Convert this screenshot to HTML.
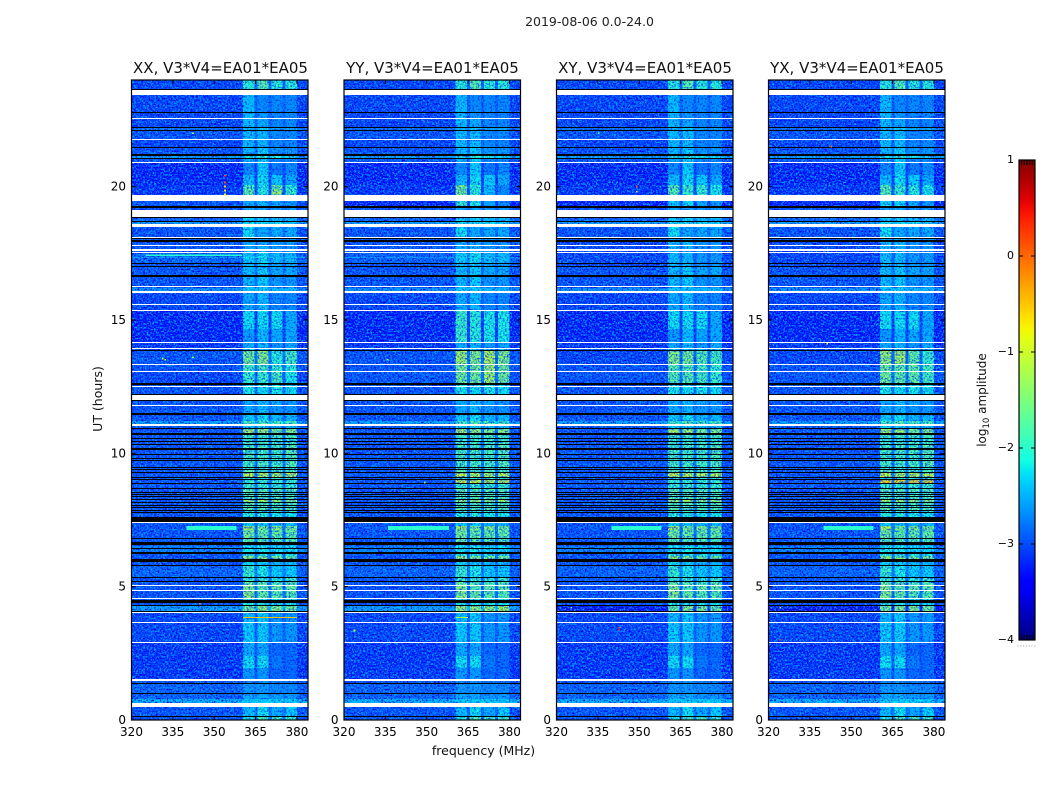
<!DOCTYPE html>
<html lang="en">
<head>
<meta charset="utf-8">
<title>2019-08-06 0.0-24.0</title>
<style>
html,body{margin:0;padding:0;background:#fff;}
svg{display:block;font-family:"DejaVu Sans","Liberation Sans",sans-serif;fill:#000;}
</style>
</head>
<body>
<svg id="figure" xmlns="http://www.w3.org/2000/svg" width="1050" height="800" viewBox="0 0 1050 800">
  <defs>
    <filter id="speckle-light" x="0" y="0" width="100%" height="100%" color-interpolation-filters="sRGB">
      <feTurbulence type="fractalNoise" baseFrequency="0.55" numOctaves="2" seed="7"/>
      <feColorMatrix type="matrix" values="0 0 0 0 0  0 0 0 0 0.62  0 0 0 0 1  5 0 0 0 -2.25"/>
    </filter>
    <filter id="speckle-dark" x="0" y="0" width="100%" height="100%" color-interpolation-filters="sRGB">
      <feTurbulence type="fractalNoise" baseFrequency="0.55" numOctaves="2" seed="23"/>
      <feColorMatrix type="matrix" values="0 0 0 0 0  0 0 0 0 0  0 0 0 0 0.9  0 4 0 0 -2.0"/>
    </filter>
    <linearGradient id="jet-gradient" x1="0" y1="1" x2="0" y2="0"></linearGradient>
  </defs>
  <rect x="0" y="0" width="1050" height="800" style="fill:#fff"/>
  <text x="589.5" y="26" font-size="12.5" text-anchor="middle" style="fill:#222">2019-08-06 0.0-24.0</text>
  <g id="panels"></g>
  <text x="220.5" y="73" font-size="15" text-anchor="middle" style="fill:#111">XX, V3*V4=EA01*EA05</text>
  <text x="432.5" y="73" font-size="15" text-anchor="middle" style="fill:#111">YY, V3*V4=EA01*EA05</text>
  <text x="645" y="73" font-size="15" text-anchor="middle" style="fill:#111">XY, V3*V4=EA01*EA05</text>
  <text x="857" y="73" font-size="15" text-anchor="middle" style="fill:#111">YX, V3*V4=EA01*EA05</text>
  <text x="102" y="399" font-size="12.5" text-anchor="middle" transform="rotate(-90 102 399)" style="fill:#111">UT (hours)</text>
  <text x="483.5" y="755" font-size="12.5" text-anchor="middle" style="fill:#111">frequency (MHz)</text>
  <g id="colorbar"></g>
  <text x="986" y="400" font-size="12" text-anchor="middle" transform="rotate(-90 986 400)" style="fill:#111">log<tspan font-size="8.5" dy="3">10</tspan><tspan dy="-3"> amplitude</tspan></text>
</svg>
<script>
// ---- chart data ----
const xTickLabels = [320, 335, 350, 365, 380];
const yTickLabels = [0, 5, 10, 15, 20];
const colorbarTickLabels = [1, 0, -1, -2, -3, -4];
const panelNames = ['xx', 'yy', 'xy', 'yx'];

// Frequency channel groups (MHz) and what each holds.
const freqEdges = [320, 360.5, 364.6, 365.7, 369.7, 370.8, 374.8, 375.9, 380, 384];
const freqRoles = [0, 1, -1, 2, -1, 3, -1, 4, 0];
const gapLift = 0.2;
const bandBoost = 0.12;

// Scans, top to bottom: [start integration, background, band1, band2, band3, band4].
// A lone null is flagged (white); a lone -9 is under-range (black).
const integrationHours = 0.0375;
const scans = [
[0,-3.1,-2.1,-1.8,-2.1,-2.1],[9,-9],[10,null],[15,-3.1,-2.5,-2.8,-2.8,-2.8],[32,-9],[33,-3.1,-2.5,-2.7,-2.8,-2.8],[38,null],
[39,-3.1,-2.5,-2.6,-2.8,-2.8],[47,-9],[48,-2.8,-2.5,-2.4,-2.6,-2.6],[50,-9],[51,-3.0,-2.5,-2.5,-2.8,-2.8],[59,null],
[60,-3.1,-2.5,-2.5,-2.8,-2.8],[67,-9],[68,-3.0,-2.5,-2.4,-2.7,-2.7],[74,-9],[76,-2.5,-2.2,-2.1,-2.2,-2.3],[78,-9],
[79,-3.0,-2.6,-2.4,-2.8,-2.8],[82,null],[83,-3.3,-2.8,-2.4,-2.9,-2.8],[95,-3.3,-2.5,-2.3,-2.4,-2.6],[105,-3.2,-1.9,-2.2,-1.7,-2.1],
[110,-3.2,-1.7,-2.1,-1.4,-2.0],[115,null],[121,-3.0,-2.6,-2.5,-2.6,-2.7],[126,-9],[128,-3.0,-2.6,-2.6,-2.7,-2.7],[130,null],
[137,-9],[138,-2.9,-2.4,-2.4,-2.5,-2.5],[141,-9],[142,-2.5,-2.3,-2.3,-2.3,-2.4],[144,null],[147,-3.0,-2.3,-2.6,-2.6,-2.6],
[157,null],[158,-9],[159,-3.0,-2.6,-2.6,-2.7,-2.7],[160,-9],[162,-3.0,-2.6,-2.6,-2.7,-2.7],[165,null],[166,-3.0,-2.6,-2.5,-2.7,-2.7],
[169,null],[171,-3.0,-2.6,-2.5,-2.7,-2.7],[172,null],[173,-2.9,-2.4,-2.3,-2.5,-2.5],[177,-2.5,-2.3,-2.3,-2.4,-2.4],
[178,-2.9,-2.4,-2.3,-2.5,-2.5],[183,-9],[184,-3.0,-2.5,-2.4,-2.6,-2.6],[186,-9],[187,-3.0,-2.5,-2.4,-2.6,-2.6],[195,-9],
[197,-3.0,-2.5,-2.4,-2.7,-2.7],[206,null],[207,-3.0,-2.5,-2.5,-2.7,-2.7],[208,-2.6,-2.4,-2.4,-2.5,-2.5],[211,null],
[213,-3.1,-2.6,-2.5,-2.8,-2.8],[224,null],[225,-3.1,-2.6,-2.5,-2.8,-2.8],[230,null],[231,-3.3,-2.3,-2.3,-2.3,-2.6],
[249,-3.3,-2.7,-2.5,-2.6,-2.6],[262,null],[263,-3.2,-2.6,-2.5,-2.7,-2.6],[268,null],[269,-3.1,-2.4,-2.4,-2.5,-2.5],[270,-9],
[271,-3.0,-1.6,-1.5,-2.1,-1.9],[284,null],[285,-3.0,-1.9,-1.9,-2.0,-2.1],[291,null],[292,-3.1,-2.0,-2.0,-1.9,-2.2],[303,-9],
[305,-3.0,-2.2,-2.2,-2.2,-2.3],[306,null],[307,-3.0,-2.2,-2.3,-2.2,-2.3],[314,-9],[315,null],[320,-9],[321,-3.0,-2.6,-2.5,-2.6,-2.7],
[325,null],[326,-3.0,-2.6,-2.5,-2.7,-2.7],[333,-9],[335,-3.0,-2.4,-2.3,-2.5,-2.5],[341,-2.5,-1.9,-1.8,-1.9,-1.9],[344,null],
[346,-3.0,-2.4,-2.4,-2.5,-2.5],[348,-9],[349,-3.0,-1.3,-1.4,-1.6,-1.5],[353,-9],[355,-3.0,-1.9,-1.9,-1.9,-1.9],[358,-9],
[359,-3.0,-2.0,-2.0,-2.0,-2.0],[361,-9],[362,-3.0,-1.9,-1.9,-1.9,-1.9],[364,-9],[365,-3.0,-1.9,-1.9,-1.9,-1.8],[368,-9],
[370,-3.0,-1.9,-1.9,-1.9,-1.8],[374,-9],[375,-3.0,-1.9,-1.9,-1.9,-1.8],[378,-9],[379,-3.0,-1.9,-2.0,-2.0,-1.9],[380,-9],
[381,-3.0,-1.9,-1.9,-1.9,-1.8],[387,-9],[388,-3.0,-2.0,-2.0,-2.0,-2.0],[389,-9],[390,-3.0,-1.8,-1.9,-1.9,-1.9],[392,-9],
[393,-3.0,-1.1,-1.2,-1.2,-1.2],[397,-9],[398,-3.0,-2.1,-2.1,-2.1,-2.1],[399,-9],[400,-3.0,-2.0,-2.0,-2.0,-2.0],[403,-9],
[404,-3.0,-2.0,-2.0,-2.0,-2.0],[408,-9],[409,-3.0,-1.7,-1.8,-1.8,-1.8],[412,-9],[413,-3.0,-1.9,-1.9,-2.0,-2.0],[414,-9],
[415,-3.0,-1.8,-1.8,-1.9,-1.9],[416,-9],[417,-3.0,-1.8,-1.8,-1.8,-1.8],[419,-9],[420,-3.0,-1.3,-1.3,-1.4,-1.4],[422,-9],
[423,-3.0,-1.8,-1.8,-1.9,-1.8],[425,-9],[426,-3.0,-1.9,-1.9,-1.9,-1.9],[427,-9],[428,-3.0,-1.7,-1.8,-1.8,-1.8],[430,-9],
[431,-3.0,-2.0,-2.0,-2.0,-2.0],[432,-9],[433,-3.0,-2.1,-2.1,-2.2,-2.2],[437,-9],[442,null],[443,-3.0,-2.4,-2.4,-2.5,-2.5],
[446,-3.0,-1.3,-1.6,-1.5,-1.6],[450,-3.0,-1.6,-1.7,-1.7,-1.7],[458,-9],[459,-3.0,-1.7,-1.8,-1.8,-1.8],[462,-9],[465,-3.0,-2.4,-2.4,-2.5,-2.5],
[466,-2.7,-2.2,-2.2,-2.3,-2.3],[468,-9],[469,-2.7,-2.2,-2.2,-2.3,-2.3],[472,-9],[474,-3.0,-2.1,-2.2,-2.2,-2.2],[476,-3.0,-1.4,-1.5,-1.6,-1.6],
[479,-9],[482,-3.0,-2.3,-2.4,-2.5,-2.5],[485,-9],[486,-2.9,-2.0,-2.2,-2.4,-2.4],[497,-9],[498,-3.0,-2.0,-2.0,-2.1,-2.0],[501,-9],
[502,-3.0,-1.7,-1.8,-1.9,-1.8],[505,null],[506,-3.0,-1.5,-1.8,-1.7,-1.7],[510,null],[511,-3.0,-1.5,-1.7,-1.8,-1.8],[518,null],
[519,-3.0,-2.1,-2.1,-2.2,-2.2],[520,-9],[523,-3.0,-2.2,-2.2,-2.3,-2.3],[525,-9],[526,-2.5,-1.6,-1.4,-1.5,-1.6],[531,-9],[532,null],
[533,-3.1,-2.5,-2.4,-2.7,-2.7],[542,null],[543,-3.1,-2.4,-2.4,-2.7,-2.7],[562,null],[563,-3.2,-2.6,-2.6,-3.0,-3.0],
[576,-3.2,-2.3,-2.3,-2.9,-3.0],[588,-3.2,-2.7,-2.7,-3.0,-3.0],[599,null],[601,-3.0,-2.8,-2.7,-2.9,-2.9],[603,-9],[604,-2.9,-2.7,-2.7,-2.8,-2.8],
[613,-9],[614,-2.9,-2.6,-2.6,-2.7,-2.7],[619,-2.4,-2.4,-2.4,-2.4,-2.4],[623,null],[627,-3.0,-2.5,-2.3,-2.6,-2.4],[636,-9],
[637,-3.0,-2.2,-1.9,-1.9,-2.0]
];
const totalIntegrations = 640;

// Panel-specific replacements: [UT from, UT to, background, band1..band4].
const overridesXX = [];
const overridesYY = [
[13.35,13.84,-3.0,-1.3,-1.5,-1.2,-1.5],[12.68,13.31,-3.0,-1.6,-1.6,-1.3,-1.6],[19.69,20.06,-3.2,-1.6,-2.1,-2.5,-2.8],
[19.3,19.69,-3.3,-2.0,-2.2,-2.6,-2.8],[4.13,4.28,-2.5,-1.4,-1.4,-1.4,-1.3],[14.2,15.0,-3.3,-2.0,-2.1,-2.2,-2.2],[8.8,9.0,-3.0,-0.9,-1.0,-1.1,-1.1]
];
const overridesXY = [
[13.35,13.84,-3.1,-1.5,-1.6,-1.8,-1.9],[12.68,13.31,-3.0,-1.8,-1.8,-1.9,-2.0],[19.69,20.06,-3.2,-1.8,-2.0,-2.0,-2.2],
[19.3,19.69,-3.3,-2.4,-2.3,-2.6,-2.7],[4.13,4.28,-3.5,-1.7,-1.5,-1.6,-1.7],[16.9,18.0,-3.1,-2.5,-2.5,-2.7,-2.7]
];
const overridesYX = [
[13.35,13.84,-3.1,-1.4,-1.3,-1.7,-2.0],[12.68,13.31,-3.0,-1.6,-1.7,-1.7,-1.9],[19.69,20.06,-3.2,-1.8,-2.0,-2.1,-2.2],
[19.3,19.69,-3.3,-2.3,-2.3,-2.6,-2.7],[4.13,4.28,-3.5,-1.6,-1.5,-1.5,-1.6],[16.9,18.0,-3.1,-2.5,-2.5,-2.7,-2.7],[8.8,9.0,-3.0,-0.7,-0.7,-0.7,-0.7]
];
const panelOverrides = [overridesXX, overridesYY, overridesXY, overridesYX];

// Narrow-band interference: [UT from, UT to, MHz from, MHz to, log10 amplitude].
const burstsXX = [[7.125,7.275,340,358,-2.0],[3.82,3.86,360.5,380,-0.5],[17.4,17.45,325,360,-2.0]];
const burstsYY = [[7.125,7.275,336,358,-2.0],[3.82,3.86,360.5,365,-1.2]];
const burstsXY = [[7.125,7.275,340,358,-2.0]];
const burstsYX = [[7.125,7.275,340,358,-2.0]];
const panelBursts = [burstsXX, burstsYY, burstsXY, burstsYX];

// Isolated bright pixels: [UT, MHz, log10 amplitude].
const spikesXX = [[20.4,353.6,0.2],[20.15,353.6,0.1],[20.0,353.6,-0.6],[19.85,353.6,-0.7],[19.7,353.6,-0.7],[22.0,342,-1.3],[13.55,331,-1.0],[13.5,332,-1.0],[13.6,342,-1.2],[4.35,344.5,-0.2]];
const spikesYY = [[3.35,323.5,-1.0],[13.5,335.5,-1.3],[8.9,349,-1.6]];
const spikesXY = [[3.38,342.4,0.3],[3.45,342.4,0.2],[4.2,325,-1.3],[20.0,348.8,0.1],[19.8,348.8,-0.7],[22.0,335,-1.6]];
const spikesYX = [[3.38,342.4,0.3],[3.0,324,0.2],[21.5,342.4,-0.1],[14.1,341,-1.0],[4.2,324,-1.3]];
const panelSpikes = [spikesXX, spikesYY, spikesXY, spikesYX];

// ---- axes ----
const SVG_NS = 'http://www.w3.org/2000/svg';
const panelLeft = [131.5, 344, 556.5, 768.5];
const panelWidth = 176.5;
const panelTop = 80;
const panelHeight = 640;
const xOf = (mhz, p) => panelLeft[p] + (mhz - 320) / 64 * panelWidth;
const yOf = (ut) => panelTop + panelHeight - ut / 24 * panelHeight;
const cbTop = 160, cbHeight = 480, cbLeft = 1019, cbWidth = 16;
const cbY = (v) => cbTop + (1 - v) / 5 * cbHeight;

function interp(points, t) {
  for (let i = 1; i < points.length; i++) {
    if (t <= points[i][0]) {
      const a = points[i - 1], b = points[i];
      return a[1] + (b[1] - a[1]) * (t - a[0]) / (b[0] - a[0]);
    }
  }
  return points[points.length - 1][1];
}
const jetR = [[0,0],[0.35,0],[0.66,1],[0.89,1],[1,0.5]];
const jetG = [[0,0],[0.125,0],[0.375,1],[0.64,1],[0.91,0],[1,0]];
const jetB = [[0,0.5],[0.11,1],[0.34,1],[0.65,0],[1,0]];
function colorFor(v) {
  if (v === null) return '#ffffff';
  if (v < -4) return '#000000';
  const t = Math.min(1, (v + 4) / 5);
  const c = (pts) => Math.round(255 * interp(pts, t));
  return 'rgb(' + c(jetR) + ',' + c(jetG) + ',' + c(jetB) + ')';
}
function make(parent, tag) {
  const el = document.createElementNS(SVG_NS, tag);
  parent.appendChild(el);
  return el;
}
function box(el, x, y, w, h, fill) {
  el.setAttribute('x', x);
  el.setAttribute('y', y);
  el.setAttribute('width', w);
  el.setAttribute('height', h);
  el.style.fill = fill;
  el.setAttribute('shape-rendering', 'crispEdges');
}
function seg(el, x1, y1, x2, y2, color) {
  el.setAttribute('x1', x1);
  el.setAttribute('y1', y1);
  el.setAttribute('x2', x2);
  el.setAttribute('y2', y2);
  el.style.stroke = color;
  el.style.strokeWidth = 1;
}
function scanValues(p, s) {
  const row = scans[s];
  const next = s + 1 < scans.length ? scans[s + 1][0] : totalIntegrations;
  const midUt = 24 - (row[0] + next) / 2 * integrationHours;
  if (row.length === 2) return row.slice(1);
  for (const o of panelOverrides[p]) {
    if (midUt >= o[0] && midUt <= o[1]) return o.slice(2);
  }
  return row.slice(1);
}

const panelsRoot = document.getElementById('panels');
panelNames.forEach(function (name, p) {
  const g = make(panelsRoot, 'g');
  
  

  const heat = make(g, 'g');
  
  
  const flagged = [];

  scans.forEach(function (row, s) {
    const next = s + 1 < scans.length ? scans[s + 1][0] : totalIntegrations;
    const yTop = yOf(24 - row[0] * integrationHours);
    const yBot = yOf(24 - next * integrationHours);
    const vals = scanValues(p, s);
    if (vals.length === 1) {
      flagged.push([yTop, yBot - yTop, vals[0]]);
      return;
    }
    freqRoles.forEach(function (role, c) {
      let v = vals[0];
      if (role === -1) v = vals[0] + gapLift;
      if (role > 0) v = vals[role] + bandBoost;
      const cell = make(heat, 'rect');
      
      
      box(cell, xOf(freqEdges[c], p), yTop, xOf(freqEdges[c + 1], p) - xOf(freqEdges[c], p), yBot - yTop, colorFor(v));
    });
  });

  ['speckle-light', 'speckle-dark'].forEach(function (f) {
    [[320, 360.5, 1], [360.5, 380, 0.65], [380, 384, 1]].forEach(function (zone) {
      const n = make(g, 'rect');
      
      
      box(n, xOf(zone[0], p), panelTop, xOf(zone[1], p) - xOf(zone[0], p), panelHeight, '#000');
      n.setAttribute('filter', 'url(#' + f + ')');
      n.setAttribute('opacity', zone[2]);
    });
  });

  panelBursts[p].forEach(function (b) {
    const r = make(g, 'rect');
    
    
    box(r, xOf(b[2], p), yOf(b[1]), xOf(b[3], p) - xOf(b[2], p), yOf(b[0]) - yOf(b[1]), colorFor(b[4]));
  });

  flagged.forEach(function (f) {
    const r = make(g, 'rect');
    
    
    box(r, panelLeft[p], f[0], panelWidth, f[1], colorFor(f[2]));
  });

  panelSpikes[p].forEach(function (k) {
    const r = make(g, 'rect');
    
    
    box(r, xOf(k[1], p), yOf(k[0]) - 1, 1.6, 1.6, colorFor(k[2]));
  });

  const frame = make(g, 'rect');
  
  
  frame.setAttribute('x', panelLeft[p]);
  frame.setAttribute('y', panelTop);
  frame.setAttribute('width', panelWidth);
  frame.setAttribute('height', panelHeight);
  frame.style.fill = 'none';
  frame.style.stroke = '#000';
  frame.style.strokeWidth = 1.2;

  xTickLabels.forEach(function (mhz) {
    const x = xOf(mhz, p);
    const t1 = make(g, 'line');
    
    
    seg(t1, x, panelTop + panelHeight, x, panelTop + panelHeight - 4, '#000');
    const t2 = make(g, 'line');
    
    
    seg(t2, x, panelTop, x, panelTop + 4, '#000');
    const lab = make(g, 'text');
    
    
    lab.setAttribute('x', x);
    lab.setAttribute('y', 736);
    lab.setAttribute('font-size', '12');
    lab.setAttribute('text-anchor', 'middle');
    lab.textContent = mhz;
  });

  yTickLabels.forEach(function (ut) {
    const y = yOf(ut);
    const t1 = make(g, 'line');
    
    
    seg(t1, panelLeft[p], y, panelLeft[p] + 4, y, '#000');
    const t2 = make(g, 'line');
    
    
    seg(t2, panelLeft[p] + panelWidth, y, panelLeft[p] + panelWidth - 4, y, '#000');
    const lab = make(g, 'text');
    
    
    lab.setAttribute('x', panelLeft[p] - 5.5);
    lab.setAttribute('y', y + 4);
    lab.setAttribute('font-size', '12');
    lab.setAttribute('text-anchor', 'end');
    lab.textContent = ut;
  });
});

// ---- colorbar ----
const grad = document.getElementById('jet-gradient');
for (let i = 0; i <= 48; i++) {
  const stop = make(grad, 'stop');
  stop.setAttribute('offset', (i / 48 * 100) + '%');
  stop.setAttribute('stop-color', colorFor(-4 + i / 48 * 5));
}
const cb = document.getElementById('colorbar');
const cbRect = make(cb, 'rect');


cbRect.setAttribute('x', cbLeft);
cbRect.setAttribute('y', cbTop);
cbRect.setAttribute('width', cbWidth);
cbRect.setAttribute('height', cbHeight);
cbRect.style.fill = 'url(#jet-gradient)';
cbRect.style.stroke = '#000';
cbRect.style.strokeWidth = 1.2;

colorbarTickLabels.forEach(function (v) {
  const y = cbY(v);
  const t1 = make(cb, 'line');
  
  
  seg(t1, cbLeft, y, cbLeft + 4, y, '#000');
  const t2 = make(cb, 'line');
  
  
  seg(t2, cbLeft + cbWidth, y, cbLeft + cbWidth - 4, y, '#000');
  const lab = make(cb, 'text');
  
  
  lab.setAttribute('x', cbLeft - 5);
  lab.setAttribute('y', y + 3);
  lab.setAttribute('font-size', '11');
  lab.setAttribute('text-anchor', 'end');
  lab.textContent = v < 0 ? '\u2212' + Math.abs(v) : String(v);
});

for (let i = 1; i <= 5; i++) {
  const x = cbLeft + i * cbWidth / 6;
  const top = make(cb, 'line');
  
  
  seg(top, x, cbTop, x, cbTop + 5, '#000');
  const bottom = make(cb, 'line');
  
  
  seg(bottom, x, cbTop + cbHeight, x, cbTop + cbHeight - 5, '#000');
}
for (let i = 0; i <= 6; i++) {
  const dot = make(cb, 'rect');
  
  
  dot.setAttribute('x', 1017.5 + i * 2.8);
  dot.setAttribute('y', 645.5);
  dot.setAttribute('width', 1);
  dot.setAttribute('height', 1);
  dot.style.fill = '#999';
}
</script>
</body>
</html>
